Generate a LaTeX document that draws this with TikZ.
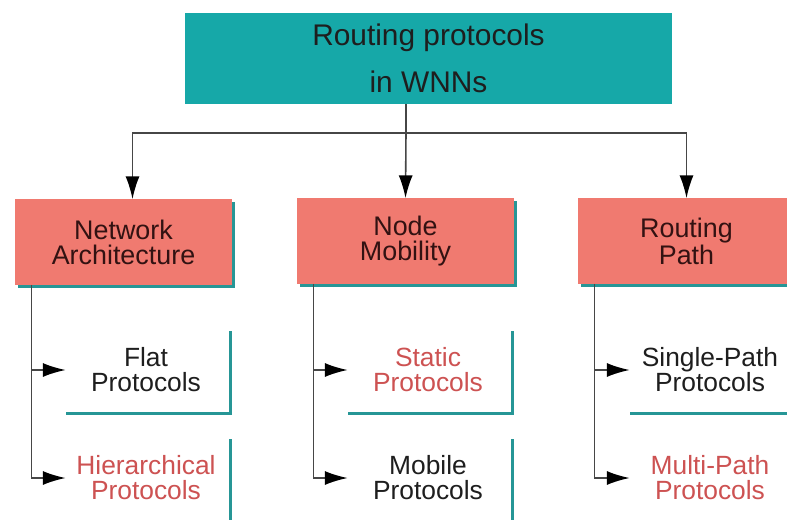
\documentclass[tikz,border=0pt]{standalone}
\usepackage{fontspec}
\setmainfont{Liberation Sans}
\usetikzlibrary{arrows.meta,shadows}
\newlength\pxu
\setlength\pxu{0.02cm}
\definecolor{rootteal}{RGB}{22,168,168}
\definecolor{catsalmon}{RGB}{240,122,112}
\definecolor{shadowteal}{RGB}{38,150,150}
\definecolor{cattext}{RGB}{50,18,18}
\definecolor{leafred}{RGB}{205,82,82}
\definecolor{leafblack}{RGB}{30,30,30}
\definecolor{linegray}{RGB}{70,70,70}
\tikzset{
	tealshadow/.style={drop shadow={shadow xshift=3\pxu, shadow yshift=-3\pxu, fill=shadowteal, opacity=1}},
	rootbox/.style={fill=rootteal, minimum width=487\pxu, minimum height=91\pxu, align=center, text=leafblack, font=\fontsize{17}{26.6}\selectfont},
	catbox/.style={fill=catsalmon, tealshadow, minimum width=217\pxu, minimum height=85\pxu, align=center, text=cattext, font=\fontsize{15.3}{14.2}\selectfont},
	leafbox/.style={fill=white, tealshadow, minimum width=166\pxu, minimum height=84\pxu, align=center, font=\fontsize{15}{14.2}\selectfont},
	link/.style={draw=linegray, line width=0.9pt, -{Latex[length=13pt,width=8pt,color=black]}},
	plain/.style={draw=linegray, line width=0.9pt}
}
\begin{document}
\begin{tikzpicture}[x=0.02cm, y=-0.02cm]
		\useasboundingbox (0,0) rectangle (787,520);
		\clip (0,0) rectangle (787,520);
		
		\node[rootbox] (root) at (428.5,58.5) {Routing protocols\\in WNNs};
		\node[catbox] (net) at (123.5,242) {Network\\Architecture};
		\node[catbox] (mob) at (405.5,241) {Node\\Mobility};
		\node[catbox] (path) at (686.5,241) {Routing\\Path};
		
		\coordinate (bus) at (406,133);
		\draw[plain] (root.south -| bus) -- (bus);
		\draw[link] (bus) -| ([xshift=9\pxu]net.north);
		\draw[link] (bus) -- (mob.north);
		\draw[link] (bus) -| (path.north);
		
		% leaves under each category
		\foreach \c/\lx/\ta/\ka/\tb/\kb in {net/146/Flat/leafblack/Hierarchical/leafred, mob/428/Static/leafred/Mobile/leafblack, path/710/Single-Path/leafblack/Multi-Path/leafred}{
			\node[leafbox, text=\ka] (\c-a) at (\lx,370) {\ta\\Protocols};
			\node[leafbox, text=\kb] (\c-b) at (\lx,478) {\tb\\Protocols};
			\draw[link, shorten >=-3\pxu] ([xshift=17\pxu]\c.south west) |- (\c-a.west);
			\draw[link, shorten >=-3\pxu] ([xshift=17\pxu]\c.south west) |- (\c-b.west);
		}
		\end{tikzpicture}
\end{document}
